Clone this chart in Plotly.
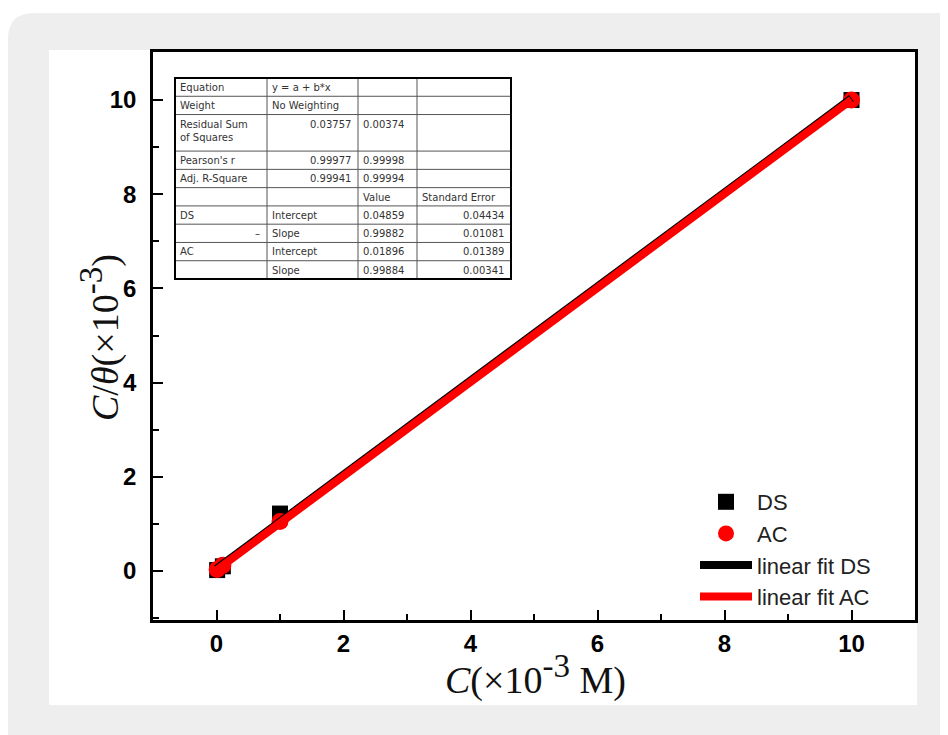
import plotly.graph_objects as go

# ---------------- data ----------------
conc = [0.01, 0.1, 1, 10]                 # C (x10^-3 M)
ds_vals = [0.02, 0.10, 1.22, 10.0]         # C/theta DS
ac_vals = [0.03, 0.12, 1.05, 10.0]         # C/theta AC

fit_names = ["linear fit DS", "linear fit AC"]
fit_intercepts = [0.04859, 0.01896]
fit_slopes = [0.99882, 0.99884]

x_ticks = [0, 2, 4, 6, 8, 10]
y_ticks = [0, 2, 4, 6, 8, 10]

# inset fit-report table (4 columns)
table_col0 = ["Equation", "Weight", "Residual Sum<br>of Squares", "Pearson's r", "Adj. R-Square",
              "", "DS", "–", "AC", ""]
table_col1 = ["y = a + b*x", "No Weighting", "0.03757", "0.99977", "0.99941",
              "", "Intercept", "Slope", "Intercept", "Slope"]
table_col2 = ["", "", "0.00374", "0.99998", "0.99994",
              "Value", "0.04859", "0.99882", "0.01896", "0.99884"]
table_col3 = ["", "", "", "", "",
              "Standard Error", "0.04434", "0.01081", "0.01389", "0.00341"]

# ---------------- layout geometry (target-image pixel coordinates) ----------------
OFF = 8                      # default page body margin
IMG_W, IMG_H = 948, 735
FIG_W, FIG_H = IMG_W - OFF, IMG_H - OFF
L, R, T, B = 153, 915, 52, 620
PW, PH = R - L, B - T


def px_x(p):
    return (p - L) / PW


def px_y(p):
    return (B - p) / PH


fig = go.Figure()

fig.add_trace(go.Scatter(x=conc, y=ds_vals, mode="markers", name="DS",
                         marker=dict(symbol="square", size=16, color="black",
                                     line=dict(width=0))))
fig.add_trace(go.Scatter(x=conc, y=ac_vals, mode="markers", name="AC",
                         marker=dict(symbol="circle", size=17, color="#ff0000",
                                     line=dict(width=0))))

fit_x = [0, max(conc)]
fit_colors = ["black", "#ff0000"]
fit_widths = [8, 8]
for name, a, b, c, w in zip(fit_names, fit_intercepts, fit_slopes, fit_colors, fit_widths):
    fig.add_trace(go.Scatter(x=fit_x, y=[a + b * xv for xv in fit_x], mode="lines",
                             name=name, line=dict(color=c, width=w)))

shapes = []
# grey page background with rounded top-left corner
r = 26
gx0, gy0 = 8, 13
gx1, gy1 = 990, 780
path = (f"M {px_x(gx0)},{px_y(gy0 + r)} "
        f"Q {px_x(gx0)},{px_y(gy0)} {px_x(gx0 + r)},{px_y(gy0)} "
        f"L {px_x(gx1)},{px_y(gy0)} L {px_x(gx1)},{px_y(gy1)} "
        f"L {px_x(gx0)},{px_y(gy1)} Z")
shapes.append(dict(type="path", path=path, xref="paper", yref="paper",
                   fillcolor="#eeeeee", line=dict(width=0), layer="below"))
# white figure panel
shapes.append(dict(type="rect", xref="paper", yref="paper",
                   x0=px_x(49), x1=px_x(917), y0=px_y(705), y1=px_y(50),
                   fillcolor="white", line=dict(width=0), layer="below"))

# inset table
col_edges = [175, 267, 358, 417, 511]
row_units = [1, 1, 2, 1, 1, 1, 1, 1, 1, 1]
tab_top, tab_bot = 78, 279
unit = (tab_bot - tab_top) / sum(row_units)
row_edges = [tab_top]
for u in row_units:
    row_edges.append(row_edges[-1] + u * unit)

shapes.append(dict(type="rect", xref="paper", yref="paper",
                   x0=px_x(col_edges[0]), x1=px_x(col_edges[-1]),
                   y0=px_y(tab_bot), y1=px_y(tab_top),
                   fillcolor="white", line=dict(width=0), layer="above"))
for ce in col_edges[1:-1]:
    shapes.append(dict(type="line", xref="paper", yref="paper",
                       x0=px_x(ce), x1=px_x(ce), y0=px_y(tab_bot), y1=px_y(tab_top),
                       line=dict(color="#555555", width=1), layer="above"))
for re_ in row_edges[1:-1]:
    shapes.append(dict(type="line", xref="paper", yref="paper",
                       x0=px_x(col_edges[0]), x1=px_x(col_edges[-1]), y0=px_y(re_), y1=px_y(re_),
                       line=dict(color="#555555", width=1), layer="above"))
shapes.append(dict(type="rect", xref="paper", yref="paper",
                   x0=px_x(col_edges[0]), x1=px_x(col_edges[-1]),
                   y0=px_y(tab_bot), y1=px_y(tab_top),
                   line=dict(color="black", width=2), layer="above"))

# per-cell alignment
align_cols = [
    ["l", "l", "l", "l", "l", "l", "l", "r", "l", "l"],
    ["l", "l", "r", "r", "r", "l", "l", "l", "l", "l"],
    ["l", "l", "l", "l", "l", "l", "l", "l", "l", "l"],
    ["l", "l", "l", "l", "l", "l", "r", "r", "r", "r"],
]
annotations = []
cols = [table_col0, table_col1, table_col2, table_col3]
for ci, col in enumerate(cols):
    for ri, txt in enumerate(col):
        if not txt:
            continue
        al = align_cols[ci][ri]
        if al == "l":
            xp, xa = col_edges[ci] + 3, "left"
        else:
            xp, xa = col_edges[ci + 1] - 5, "right"
        yp = row_edges[ri] + 2
        annotations.append(dict(text=txt, xref="paper", yref="paper",
                                x=px_x(xp), y=px_y(yp), xanchor=xa, yanchor="top",
                                showarrow=False, align="left",
                                font=dict(family="DejaVu Sans", size=10, color="#333333")))

TITLE_FONT = dict(family="Liberation Serif, Times New Roman", size=38, color="#111111")
SUP = '<sup><span style="font-size:33px">-3</span></sup>'

# axis titles
annotations.append(dict(text="<i>C</i>/<i>θ</i>(×10" + SUP + ")", xref="paper", yref="paper",
                        x=px_x(100), y=px_y(338), xanchor="center", yanchor="middle",
                        textangle=-90, showarrow=False, font=TITLE_FONT))
annotations.append(dict(text="<i>C</i>(×10" + SUP + " M)", xref="paper", yref="paper",
                        x=px_x(535), y=px_y(704), xanchor="center", yanchor="bottom",
                        showarrow=False, font=TITLE_FONT))

axis_common = dict(
    showgrid=False, zeroline=False, showline=True, linecolor="black", linewidth=2.5,
    mirror=True, ticks="inside", ticklen=10, tickwidth=2, tickcolor="black",
    tickfont=dict(family="Liberation Sans, Arial", size=24, color="black", weight="bold"),
    minor=dict(ticks="inside", ticklen=6, tickwidth=2, tickcolor="black", dtick=1),
)

fig.update_layout(
    width=FIG_W, height=FIG_H,
    margin=dict(l=L - OFF, r=IMG_W - R, t=T - OFF, b=IMG_H - B),
    paper_bgcolor="white", plot_bgcolor="white",
    shapes=shapes, annotations=annotations,
    xaxis=dict(range=[-1, 11], tickvals=x_ticks, ticklabelstandoff=0, **axis_common),
    yaxis=dict(range=[-1.04, 11.02], tickvals=y_ticks, ticklabelstandoff=9, **axis_common),
    legend=dict(x=px_x(695), y=px_y(481), xanchor="left", yanchor="top",
                bgcolor="rgba(0,0,0,0)", borderwidth=0, tracegroupgap=0, itemwidth=52,
                font=dict(family="Liberation Sans, Arial", size=22, color="#222222")),
    showlegend=True,
)

fig.write_html("out.html")
